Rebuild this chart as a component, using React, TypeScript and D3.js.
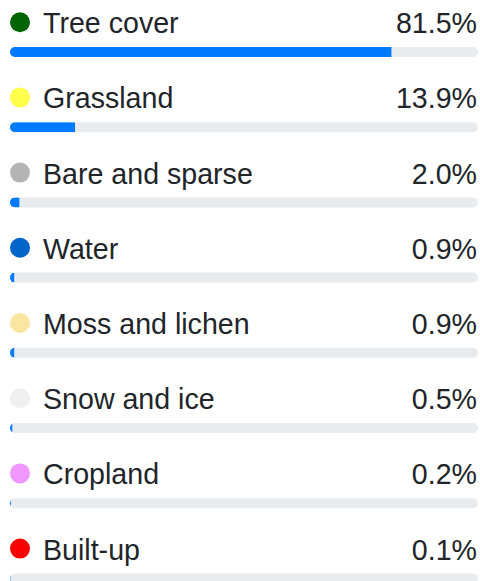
import React, { useEffect, useRef } from 'react'
import * as d3 from 'd3'

// land cover shares
const categories = [
  'Tree cover',
  'Grassland',
  'Bare and sparse',
  'Water',
  'Moss and lichen',
  'Snow and ice',
  'Cropland',
  'Built-up',
]
const shares = [81.5, 13.9, 2.0, 0.9, 0.9, 0.5, 0.2, 0.1]
const swatches = ['#006400', '#ffff4c', '#b4b4b4', '#0064c8', '#fae6a0', '#f0f0f0', '#f096ff', '#fa0000']

const width = 480
const height = 581

const App = () => {
  const ref = useRef<SVGSVGElement>(null)

  useEffect(() => {
    const svg = d3.select(ref.current)
    svg.selectAll('*').remove()

    const margin = { left: 10, right: 2, top: 47 }
    const barH = 10
    const rowStep = 75.2

    const xScale = d3
      .scaleLinear()
      .domain([0, 100])
      .range([0, width - margin.left - margin.right])

    const yScale = d3
      .scaleLinear()
      .domain([0, 1])
      .range([margin.top, margin.top + rowStep])

    const data = categories.map((c, i) => ({ name: c, value: shares[i], color: swatches[i], i }))

    const defs = svg.append('defs')
    data.forEach((d) => {
      defs
        .append('clipPath')
        .attr('id', `track-${d.i}`)
        .append('rect')
        .attr('x', margin.left)
        .attr('y', yScale(d.i))
        .attr('width', xScale(100))
        .attr('height', barH)
        .attr('rx', barH / 2)
    })

    const rows = svg
      .selectAll('g.row')
      .data(data)
      .enter()
      .append('g')
      .attr('class', 'row')

    rows
      .append('rect')
      .attr('x', margin.left)
      .attr('y', (d) => yScale(d.i))
      .attr('width', xScale(100))
      .attr('height', barH)
      .attr('rx', barH / 2)
      .style('fill', '#e9ecef')

    rows
      .append('rect')
      .attr('clip-path', (d) => `url(#track-${d.i})`)
      .attr('x', margin.left)
      .attr('y', (d) => yScale(d.i))
      .attr('width', (d) => xScale(d.value))
      .attr('height', barH)
      .style('fill', '#007bff')

    rows
      .append('circle')
      .attr('cx', 20)
      .attr('cy', (d) => yScale(d.i) - 24.8)
      .attr('r', 10)
      .style('fill', (d) => d.color)

    rows
      .append('text')
      .attr('x', 43)
      .attr('y', (d) => yScale(d.i) - 13.8)
      .text((d) => d.name)
      .style('font-family', 'Liberation Sans, Arial, sans-serif')
      .style('font-size', '28.6px')
      .style('fill', '#212529')

    rows
      .append('text')
      .attr('x', 477)
      .attr('y', (d) => yScale(d.i) - 13.8)
      .attr('text-anchor', 'end')
      .text((d) => `${d.value.toFixed(1)}%`)
      .style('font-family', 'Liberation Sans, Arial, sans-serif')
      .style('font-size', '28.6px')
      .style('fill', '#212529')
  }, [])

  return (
    <svg
      ref={ref}
      width={width}
      height={height}
      style={{ position: 'absolute', left: 0, top: 0, background: '#fff' }}
    />
  )
}

export default App
